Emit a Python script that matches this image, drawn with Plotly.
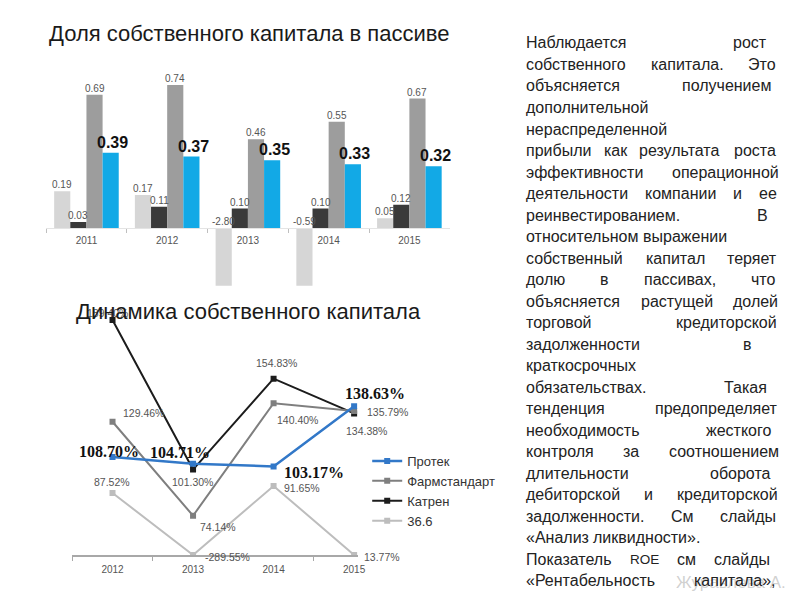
import plotly.graph_objects as go

# ---------------- data: bar chart (equity share in liabilities) ----------------
bar_years = ["2011", "2012", "2013", "2014", "2015"]
bar_series = ["36.6", "Катрен", "Фармстандарт", "Протек"]
share_366 = [0.19, 0.17, -2.80, -0.59, 0.05]
share_katren = [0.03, 0.11, 0.10, 0.10, 0.12]
share_pharm = [0.69, 0.74, 0.46, 0.55, 0.67]
share_protek = [0.39, 0.37, 0.35, 0.33, 0.32]

# ---------------- data: line chart (equity growth, %) ----------------
line_years = ["2012", "2013", "2014", "2015"]
growth_protek = [108.70, 104.71, 103.17, 138.63]
growth_pharm = [129.46, 74.14, 140.40, 135.79]
growth_katren = [189.40, 101.30, 154.83, 134.38]
growth_366 = [87.52, -289.55, 91.65, 13.77]

# ---------------- styles ----------------
C_LIGHT = "#d6d6d6"
C_DARK = "#3a3a3a"
C_GRAY = "#9d9d9d"
C_BLUE = "#12a9e6"

L_BLUE = "#3278c8"
L_GRAY = "#7f7f7f"
L_BLACK = "#1c1c1c"
L_LIGHT = "#bdbdbd"

# page body has an 8px margin: figure placed at (8, 8)
OFF = 8
W, H = 784, 584
XS = 0.9845
def px_x(x): return ((x - 1.3) / XS - OFF) / W
def px_y(y): return (H - (y - OFF)) / H

fig = go.Figure()

# ---------------- bar chart ----------------
bar_data = [share_366, share_katren, share_pharm, share_protek]
bar_colors = [C_LIGHT, C_DARK, C_GRAY, C_BLUE]
for name, vals, col in zip(bar_series, bar_data, bar_colors):
    fig.add_trace(go.Bar(x=bar_years, y=vals, name=name, marker_color=col,
                         marker_line_width=0, showlegend=False,
                         xaxis="x", yaxis="y", hoverinfo="x+y"))

BAR_PX = 16.2  # width of one bar in px
annotations = []
for i, (vals, name) in enumerate(zip(bar_data, bar_series)):
    for j, v in enumerate(vals):
        bold = name == "Протек"
        annotations.append(dict(
            x=j, y=max(v, 0), xref="x", yref="y", xanchor="center", yanchor="bottom",
            xshift=(i - 1.5) * BAR_PX + (2 if bold else 0), yshift=0 if bold else -1,
            text=(f"<b>{v:.2f}</b>" if bold else f"{v:.2f}"), showarrow=False,
            font=dict(family="Liberation Sans", size=16 if bold else 10,
                      color="#111111" if bold else "#555555")))

# ---------------- line chart ----------------
YMIN = 51
line_sets = [
    ("36.6", growth_366, L_LIGHT, 2, 4),
    ("Катрен", growth_katren, L_BLACK, 2, 3),
    ("Фармстандарт", growth_pharm, L_GRAY, 2, 2),
    ("Протек", growth_protek, L_BLUE, 2.5, 1),
]
for name, vals, col, lw, rank in line_sets:
    fig.add_trace(go.Scatter(
        x=line_years, y=[max(v, YMIN) for v in vals], name=name,
        mode="lines+markers", line=dict(color=col, width=lw),
        marker=dict(symbol="square", size=6, color=col),
        xaxis="x2", yaxis="y2", legendrank=rank,
        customdata=vals, hovertemplate="%{customdata:.2f}%<extra>" + name + "</extra>"))

# label offsets (dx, dy) in px, dy positive = down
offsets = {
    "Протек": [(-4, -6), (-13, -11), (40, 6), (21, -13)],
    "Фармстандарт": [(31, -9), (25, 11), (24, 17), (33, 1)],
    "Катрен": [(-5, -7), (-1, 12), (3, -16), (12, 18)],
    "36.6": [(-1, -11), (34, 2), (28, 2), (28, 2)],
}
for name, vals, col, lw, rank in line_sets:
    bold = name == "Протек"
    for j, (v, (dx, dy)) in enumerate(zip(vals, offsets[name])):
        annotations.append(dict(
            x=j, y=max(v, YMIN), xref="x2", yref="y2", xanchor="center", yanchor="middle",
            xshift=dx, yshift=-dy, showarrow=False,
            text=(f"<b>{v:.2f}%</b>" if bold else f"{v:.2f}%"),
            font=dict(family="Liberation Serif" if bold else "Liberation Sans",
                      size=16 if bold else 10.5,
                      color="#111111" if bold else "#555555")))

# ---------------- titles ----------------
annotations.append(dict(x=px_x(48), y=px_y(33), xref="paper", yref="paper", xanchor="left",
                        yanchor="middle", showarrow=False,
                        text="Доля собственного капитала в пассиве",
                        font=dict(family="Liberation Sans", size=22, color="#1a1a1a")))
annotations.append(dict(x=px_x(75), y=px_y(311), xref="paper", yref="paper", xanchor="left",
                        yanchor="middle", showarrow=False,
                        text="Динамика собственного капитала",
                        font=dict(family="Liberation Sans", size=22, color="#1a1a1a")))

# ---------------- right-hand text (justified by word) ----------------
GW = {}
for ch, w in zip("абвгдеёжзийклмнопрстуфхцчшщъыьэюя",
                 [556, 573, 531, 365, 583, 556, 556, 669, 458, 559, 559, 438, 583, 688, 552,
                  556, 542, 556, 500, 458, 500, 823, 500, 573, 521, 802, 823, 625, 719, 521,
                  510, 750, 542]):
    GW[ch] = w
GW.update({"Н": 722, "В": 667, "Т": 611, "Э": 722, "П": 722, "Р": 667, "С": 722, "А": 667,
           "К": 583, "Ж": 917, "R": 722, "O": 778, "E": 667, ".": 278, ",": 278, "«": 556,
           "»": 556, " ": 278})

def text_w(s, size):
    return sum(GW.get(c, 556) for c in s) * size / 1000.0 * XS

TEXT_SIZE = 16
TEXT_DX = -5
LEFT = 528
text_lines = [
    (["Наблюдается", "рост"], 766),
    (["собственного", "капитала.", "Это"], 776),
    (["объясняется", "получением"], 771),
    (["дополнительной"], None),
    (["нераспределенной"], None),
    (["прибыли", "как", "результата", "роста"], 776),
    (["эффективности", "операционной"], 778),
    (["деятельности", "компании", "и", "ее"], 777),
    (["реинвестированием.", "В"], 768),
    (["относительном", "выражении"], None),
    (["собственный", "капитал", "теряет"], 777),
    (["долю", "в", "пассивах,", "что"], 775),
    (["объясняется", "растущей", "долей"], 778),
    (["торговой", "кредиторской"], 776),
    (["задолженности", "в"], 752),
    (["краткосрочных"], None),
    (["обязательствах.", "Такая"], 767),
    (["тенденция", "предопределяет"], 778),
    (["необходимость", "жесткого"], 771),
    (["контроля", "за", "соотношением"], 778),
    (["длительности", "оборота"], 771),
    (["дебиторской", "и", "кредиторской"], 777),
    (["задолженности.", "См", "слайды"], 776),
    (["«Анализ", "ликвидности»."], None),
    (["Показатель", "ROE", "см", "слайды"], 770),
    (["«Рентабельность", "капитала»,"], 775),
]
# faint watermark behind the last line
annotations.append(dict(x=px_x(676 + TEXT_DX), y=px_y(582), xref="paper", yref="paper",
                        xanchor="left", yanchor="middle", showarrow=False, text="Журавлева А.",
                        font=dict(family="Liberation Sans", size=17,
                                  color="rgba(170,170,170,0.55)")))

def wsize(w):
    return 13.5 if w == "ROE" else TEXT_SIZE

for n, (words, right) in enumerate(text_lines):
    yc = 43 + n * 21.5
    widths = [text_w(w, wsize(w)) for w in words]
    if right is None or len(words) == 1:
        gap = text_w(" ", TEXT_SIZE)
    else:
        gap = (right - LEFT - sum(widths)) / (len(words) - 1)
    x = LEFT
    for w, wd in zip(words, widths):
        annotations.append(dict(x=px_x(x - 1 + TEXT_DX), y=px_y(yc), xref="paper",
                                yref="paper", xanchor="left", yanchor="middle",
                                showarrow=False, text=w,
                                font=dict(family="Liberation Sans", size=wsize(w),
                                          color="#222222")))
        x += wd + gap

fig.update_layout(
    width=W, height=H, margin=dict(l=0, r=0, t=0, b=0),
    paper_bgcolor="white", plot_bgcolor="rgba(0,0,0,0)",
    barmode="group", bargap=0.2, bargroupgap=0,
    annotations=annotations,
    xaxis=dict(domain=[px_x(47), px_x(448)], anchor="free", position=px_y(228),
               type="category", range=[-0.5, 4.5], showline=True, linecolor="#e4e4e4",
               linewidth=1, ticks="outside", tickson="boundaries", ticklen=4,
               tickcolor="#bfbfbf", showgrid=False, zeroline=False, ticklabelstandoff=3,
               tickfont=dict(family="Liberation Sans", size=10, color="#555555")),
    yaxis=dict(domain=[px_y(285.8), px_y(60)], range=[-0.30, 0.87], visible=False,
               showgrid=False, zeroline=False),
    xaxis2=dict(domain=[px_x(73), px_x(357)], anchor="y2", type="category",
                range=[-0.5, 3.05], showline=True, linecolor="#a8a8a8", linewidth=1.5,
                ticks="outside", tickson="boundaries", ticklen=4, tickcolor="#a8a8a8",
                showgrid=False, zeroline=False, ticklabelstandoff=4,
                tickfont=dict(family="Liberation Sans", size=10, color="#555555")),
    yaxis2=dict(domain=[px_y(555), px_y(293.5)], range=[YMIN, 205], visible=False,
                showgrid=False, zeroline=False),
    legend=dict(x=px_x(366), y=px_y(446), xanchor="left", yanchor="top",
                bgcolor="rgba(0,0,0,0)", itemwidth=30, tracegroupgap=0,
                font=dict(family="Liberation Sans", size=13, color="#333333")),
)

fig.write_html("out.html")
